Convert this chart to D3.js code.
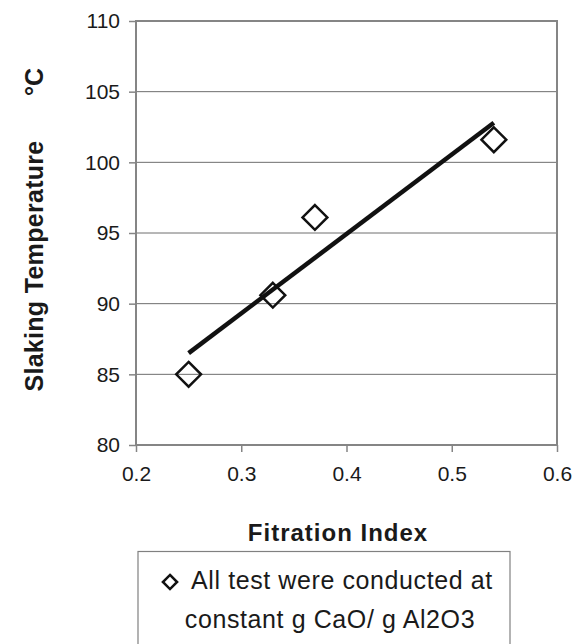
<!DOCTYPE html>
<html>
<head>
<meta charset="utf-8">
<script src="https://cdn.jsdelivr.net/npm/d3@7"></script>
<style>
  body { margin: 0; background: #fff; }
  text { font-family: Arial, "Liberation Sans", sans-serif; fill: #1a1a1a; }
</style>
</head>
<body>
<div id="chart"></div>
<script>
// measured points (filtration index vs slaking temperature)
var filtrationIndex = [0.25, 0.33, 0.37, 0.54];
var slakingTemp = [85.0, 90.6, 96.1, 101.6];

// linear trend line ends
var trendX = [0.25, 0.54];
var trendY = [86.5, 102.8];

var xTicks = [0.2, 0.3, 0.4, 0.5, 0.6];
var yTicks = [80, 85, 90, 95, 100, 105, 110];

var legendLines = ["All test were conducted at", "constant g CaO/ g Al2O3"];

var width = 585;
var height = 644;

// plot area
var plotLeft = 136, plotRight = 557, plotTop = 21, plotBottom = 445;

const svg = d3.select("#chart")
    .append("svg")
    .attr("width", width)
    .attr("height", height);

var x = d3.scaleLinear().domain([0.2, 0.6]).range([plotLeft, plotRight]);
var y = d3.scaleLinear().domain([80, 110]).range([plotBottom, plotTop]);

// horizontal gridlines
svg.append("g")
    .selectAll("line")
    .data(yTicks.slice(1, -1))
    .join("line")
      .attr("x1", plotLeft)
      .attr("x2", plotRight)
      .attr("y1", d => y(d))
      .attr("y2", d => y(d))
      .attr("stroke", "#6e6e6e")
      .attr("stroke-width", 1);

// plot border
svg.append("rect")
    .attr("x", plotLeft)
    .attr("y", plotTop)
    .attr("width", plotRight - plotLeft)
    .attr("height", plotBottom - plotTop)
    .attr("fill", "none")
    .attr("stroke", "#858585")
    .attr("stroke-width", 2);

// axes
var yAxis = d3.axisLeft(y).tickValues(yTicks).tickSize(7).tickPadding(9).tickFormat(d3.format("d"));
var xAxis = d3.axisBottom(x).tickValues(xTicks).tickSize(7).tickPadding(14).tickFormat(d3.format(".1f"));

var gy = svg.append("g").attr("transform", `translate(${plotLeft},0)`).call(yAxis);
var gx = svg.append("g").attr("transform", `translate(0,${plotBottom})`).call(xAxis);

[gx, gy].forEach(function (g) {
    g.select(".domain").remove();
    g.selectAll(".tick line").attr("stroke", "#858585").attr("stroke-width", 1.5);
    g.selectAll(".tick text")
        .attr("font-size", 21)
        .attr("font-family", "Arial, 'Liberation Sans', sans-serif")
        .attr("fill", "#1a1a1a");
});
gy.selectAll(".tick text").attr("dy", "0.33em");

// diamond markers
var diamond = d3.symbol().type(d3.symbolDiamond2).size(2 * 14 * 14);
svg.append("g")
    .selectAll("path")
    .data(filtrationIndex)
    .join("path")
      .attr("transform", (d, i) => `translate(${x(d)},${y(slakingTemp[i])})`)
      .attr("d", diamond)
      .attr("fill", "none")
      .attr("stroke", "#111")
      .attr("stroke-width", 2.5);

// trend line
var line = d3.line()
    .x(d => x(d[0]))
    .y(d => y(d[1]));
svg.append("path")
    .datum(trendX.map((d, i) => [d, trendY[i]]))
    .attr("d", line)
    .attr("fill", "none")
    .attr("stroke", "#111")
    .attr("stroke-width", 4.5);

// axis titles
svg.append("text")
    .attr("transform", "translate(43,266) rotate(-90)")
    .attr("text-anchor", "middle")
    .attr("font-size", 25)
    .attr("font-weight", "bold")
    .attr("letter-spacing", 0.3)
    .text("Slaking Temperature");

svg.append("text")
    .attr("transform", "translate(43,82) rotate(-90)")
    .attr("text-anchor", "middle")
    .attr("font-size", 25)
    .attr("font-weight", "bold")
    .text("°C");

svg.append("text")
    .attr("x", 338)
    .attr("y", 541)
    .attr("text-anchor", "middle")
    .attr("font-size", 24)
    .attr("font-weight", "bold")
    .attr("letter-spacing", 1)
    .text("Fitration Index");

// legend box
svg.append("rect")
    .attr("x", 138)
    .attr("y", 551.5)
    .attr("width", 510 - 138)
    .attr("height", 120)
    .attr("fill", "none")
    .attr("stroke", "#808080")
    .attr("stroke-width", 1.2);

svg.append("path")
    .attr("transform", "translate(170,582)")
    .attr("d", d3.symbol().type(d3.symbolDiamond2).size(2 * 8 * 8))
    .attr("fill", "none")
    .attr("stroke", "#111")
    .attr("stroke-width", 2.5);

svg.append("text")
    .attr("x", 191)
    .attr("y", 589)
    .attr("font-size", 25)
    .attr("letter-spacing", 0.6)
    .text(legendLines[0]);

svg.append("text")
    .attr("x", 330)
    .attr("y", 628)
    .attr("text-anchor", "middle")
    .attr("font-size", 25)
    .attr("letter-spacing", 0.6)
    .text(legendLines[1]);
</script>
</body>
</html>
